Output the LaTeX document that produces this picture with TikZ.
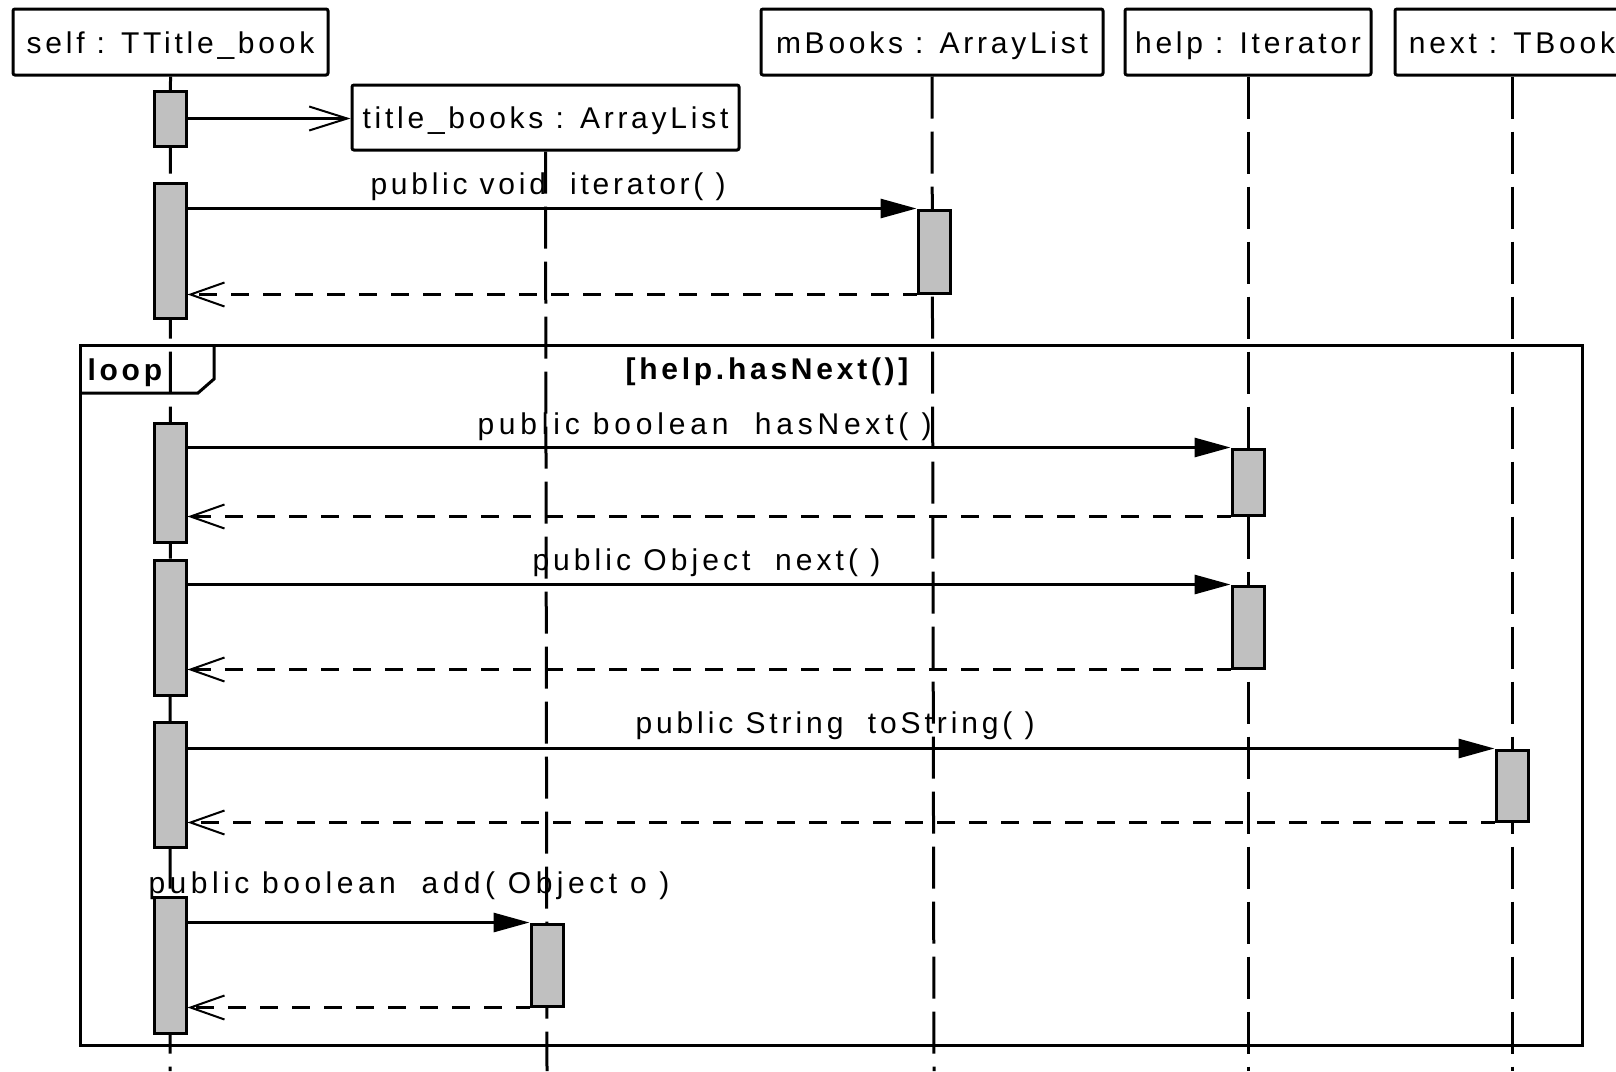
\documentclass[tikz,border=0pt]{standalone}
\usepackage{fontspec}
\setmainfont{Liberation Sans}[LetterSpace=12.5]
\usetikzlibrary{arrows.meta}

\definecolor{actgray}{RGB}{192,192,192}

\begin{document}
\begin{tikzpicture}[x=1pt, y=-1pt, line width=3pt,
  every node/.style={font=\fontsize{30pt}{36pt}\selectfont},
  obj/.style={draw, fill=white, rounded corners=2pt, inner sep=0pt,
    text height=26pt, text depth=4pt},
  act/.style={draw, fill=actgray, inner sep=0pt, minimum width=32pt},
  lifeline/.style={dash pattern=on 42pt off 13pt},
  call/.style={-{Triangle[length=36pt,width=19pt]}},
  reply/.style={dash pattern=on 18pt off 14pt, dash phase=4pt,
    -{Straight Barb[length=34pt,width=24pt,line width=2pt]}},
  create/.style={-{Straight Barb[length=38pt,width=24pt,line width=2pt]}},
  lbl/.style={anchor=base west, inner sep=0pt},
  wide/.style={font=\fontsize{30pt}{36pt}\selectfont\addfontfeatures{LetterSpace=#1}},
]
\useasboundingbox (0,0) rectangle (1616,1071);

% object heads
\node[obj, minimum width=315pt, minimum height=66pt] (self) at (170.5,42) {self : TTitle\_book};
\node[obj, minimum width=387pt, minimum height=65pt] (tb) at (545.5,117.5) {title\_books : ArrayList};
\node[obj, minimum width=342pt, minimum height=66pt] (mb) at (932,42) {mBooks : ArrayList};
\node[obj, minimum width=246pt, minimum height=66pt] (help) at (1248,42) {help : Iterator};
\node[obj, minimum width=234pt, minimum height=66pt] (next) at (1512,42) {next : TBook};

% lifelines
\coordinate (selfend) at (170,1071);
\coordinate (tbend) at (547,1071);
\coordinate (mbend) at (934,1071);
\coordinate (helpend) at (1248,1071);
\coordinate (nextend) at (1512,1071);
\draw[lifeline] (self.south) -- (selfend);
\draw[lifeline] (tb.south) -- (tbend);
\draw[lifeline] (mb.south) -- (mbend);
\draw[lifeline] (help.south) -- (helpend);
\draw[lifeline] (next.south) -- (nextend);

% loop fragment
\node[draw, inner sep=0pt, minimum width=1502pt, minimum height=700pt, anchor=north west] (loop) at (79,344) {};
\draw (79,393) -- (198,393) -- (214,379) -- (214,344);
\node[lbl, font=\fontsize{30pt}{36pt}\selectfont\bfseries] (looplbl) at (86,380) {loop};
\node[inner sep=0pt, font=\fontsize{30pt}{36pt}\selectfont\bfseries, anchor=base] (guard) at (767,379) {[help.hasNext()]};

% activations
\node[act, minimum height=55pt] (a1) at (170,118.5) {};
\node[act, minimum height=135pt] (a2) at (170,250.5) {};
\node[act, minimum height=83pt] (m1) at (934,251.5) {};
\node[act, minimum height=119pt] (a3) at (170,482.5) {};
\node[act, minimum height=66pt] (h1) at (1248,482) {};
\node[act, minimum height=135pt] (a4) at (170,627.5) {};
\node[act, minimum height=82pt] (h2) at (1248,627) {};
\node[act, minimum height=125pt] (a5) at (170,784.5) {};
\node[act, minimum height=71pt] (n1) at (1512,785.5) {};
\node[act, minimum height=136pt] (a6) at (170,965) {};
\node[act, minimum height=82pt] (t1) at (547,965) {};

% messages
\draw[create] (a1.east) -- (a1.east -| tb.west);

\draw[call] (m1.north west -| a2.east) -- (m1.north west);
\draw[reply] (m1.south west) -- (m1.south west -| a2.east);
\node[lbl] (msg1) at (369,194) {public void\ \ iterator(\ )};

\draw[call] (h1.north west -| a3.east) -- (h1.north west);
\draw[reply] (h1.south west) -- (h1.south west -| a3.east);
\node[lbl, wide=16] (msg2) at (476,434) {public boolean\ \ hasNext(\ )};

\draw[call] (h2.north west -| a4.east) -- (h2.north west);
\draw[reply] (h2.south west) -- (h2.south west -| a4.east);
\node[lbl, wide=13.5] (msg3) at (531,570) {public Object\ \ next(\ )};

\draw[call] (n1.north west -| a5.east) -- (n1.north west);
\draw[reply] (n1.south west) -- (n1.south west -| a5.east);
\node[lbl, wide=13] (msg4) at (634,733) {public String\ \ toString(\ )};

\draw[call] (t1.north west -| a6.east) -- (t1.north west);
\draw[reply] (t1.south west) -- (t1.south west -| a6.east);
\node[lbl, wide=15] (msg5) at (147,893) {public boolean\ \ add(\ Object o\ )};
\end{tikzpicture}
\end{document}
